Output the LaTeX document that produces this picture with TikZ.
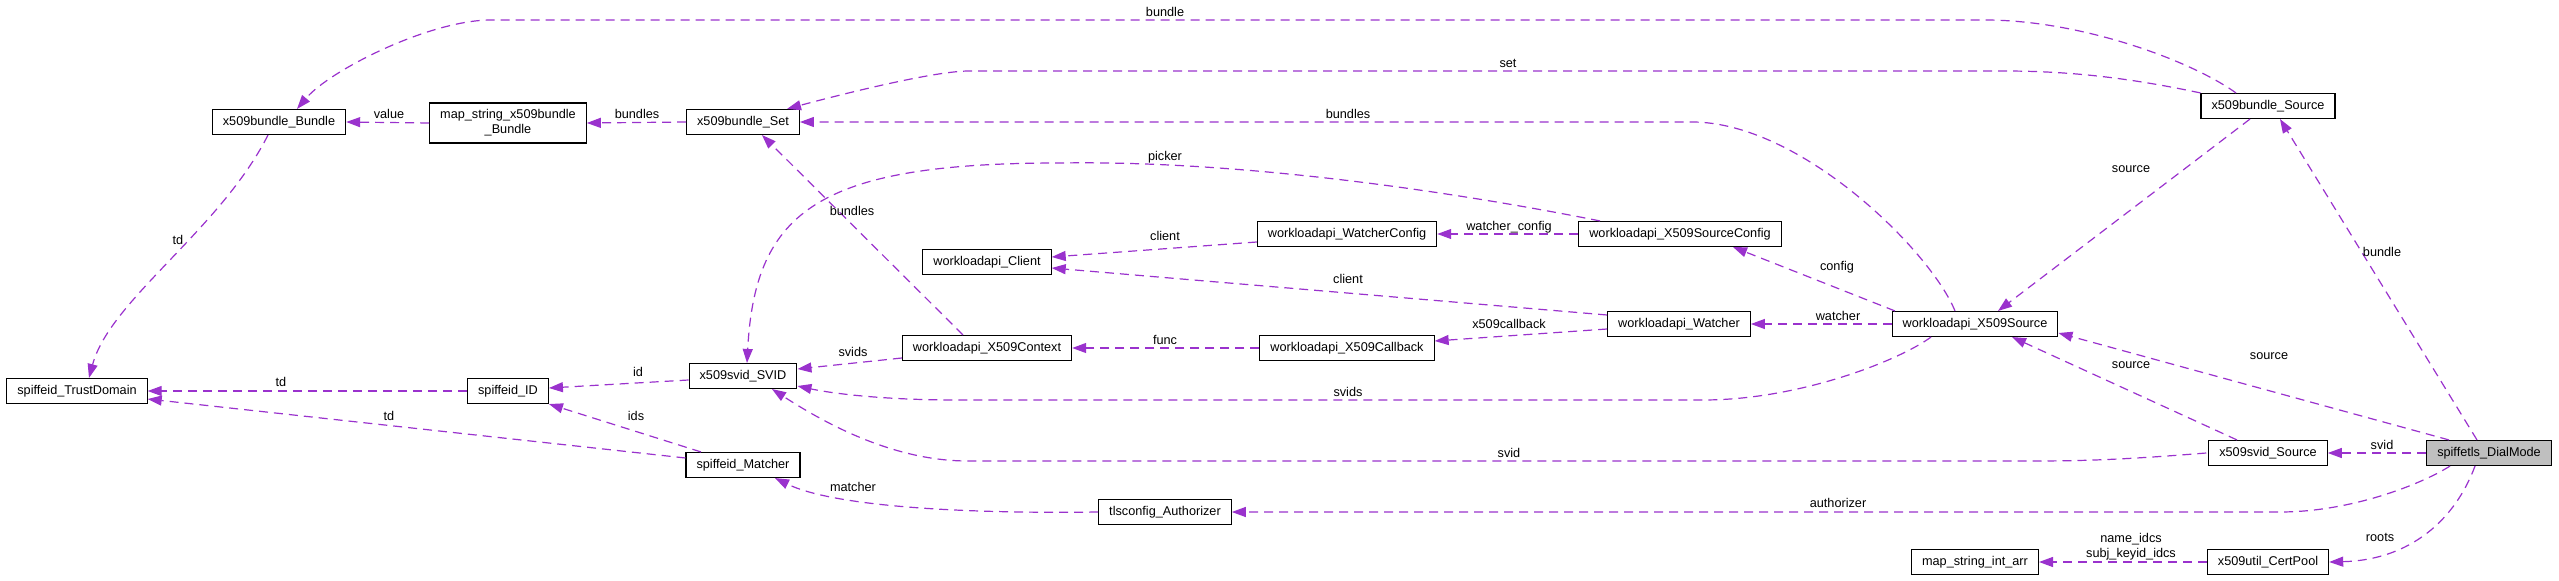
\documentclass[tikz,border=0pt]{standalone}
\usepackage{fontspec}
\setmainfont{Liberation Sans}
\usetikzlibrary{arrows.meta}
\definecolor{usecol}{HTML}{9A32CD}
\definecolor{selcol}{HTML}{BFBFBF}
\tikzset{
    cls/.style={draw=black, line width=1.1bp, fill=white, minimum height=25bp,
        inner xsep=10.5bp, inner ysep=1bp, font=\fontsize{12.7bp}{15bp}\selectfont},
    use/.style={draw=usecol, line width=1.2bp, dash pattern=on 9bp off 6bp,
        -{Triangle[length=14bp,width=10bp]}},
    lbl/.style={inner sep=0pt, font=\fontsize{12.7bp}{15bp}\selectfont},
}
\begin{document}
\begin{tikzpicture}[x=1bp, y=-1bp]
            \useasboundingbox (0,0) rectangle (2559,581);

            % spiffeid
            \node[cls] (trustDom) at (77,391) {spiffeid\_TrustDomain};
            \node[cls] (spID) at (508,391) {spiffeid\_ID};
            \node[cls] (spMatcher) at (743,465) {spiffeid\_Matcher};

            % x509bundle
            \node[cls] (bunBundle) at (279,122) {x509bundle\_Bundle};
            \node[cls, minimum height=40bp, align=center] (mapBundle) at (508,123) {map\_string\_x509bundle\\\_Bundle};
            \node[cls] (bunSet) at (743,122) {x509bundle\_Set};
            \node[cls] (bunSource) at (2268,106) {x509bundle\_Source};

            % x509svid
            \node[cls] (svidSVID) at (743,376) {x509svid\_SVID};
            \node[cls] (svidSource) at (2268,453) {x509svid\_Source};

            % workloadapi
            \node[cls] (wlClient) at (987,262) {workloadapi\_Client};
            \node[cls] (wlContext) at (987,348) {workloadapi\_X509Context};
            \node[cls] (wlWCfg) at (1347,234) {workloadapi\_WatcherConfig};
            \node[cls] (wlCallback) at (1347,348) {workloadapi\_X509Callback};
            \node[cls] (wlSCfg) at (1680,234) {workloadapi\_X509SourceConfig};
            \node[cls] (wlWatcher) at (1679,324) {workloadapi\_Watcher};
            \node[cls] (wlSource) at (1975,324) {workloadapi\_X509Source};

            % others
            \node[cls] (tlsAuth) at (1165,512) {tlsconfig\_Authorizer};
            \node[cls] (mapInt) at (1975,562) {map\_string\_int\_arr};
            \node[cls] (certPool) at (2268,562) {x509util\_CertPool};
            \node[cls, fill=selcol] (dialMode) at (2489,453) {spiffetls\_DialMode};

            % top arcs
            \draw[use] ([xshift=-32bp]bunSource.north) .. controls (2190,60) and (2080,20) .. (1985,20)
                -- (491,20) .. controls (430,20) and (330,70) .. ([xshift=18bp]bunBundle.north);
            \node[lbl] (lBundleTop) at (1165,12) {bundle};
            \draw[use] (bunSource.north west) .. controls (2130,78) and (2070,71) .. (2004,71)
                -- (969,71) .. controls (930,71) and (820,100) .. ([xshift=44bp]bunSet.north);
            \node[lbl] (lSet) at (1508,63) {set};
            \draw[use] ([xshift=-20bp]wlSource.north) .. controls (1930,250) and (1800,122) .. (1692,122)
                -- (bunSet.east);
            \node[lbl] (lBundlesSet) at (1348,114) {bundles};
            \draw[use] ([xshift=-80bp]wlSCfg.north) .. controls (1470,195) and (1250,160) .. (1060,163)
                .. controls (820,163) and (755,210) .. ([xshift=4bp]svidSVID.north);
            \node[lbl] (lPicker) at (1165,157) {picker};

            % x509bundle row
            \draw[use] (bunSet.west) -- (mapBundle.east);
            \node[lbl] (lBundlesMap) at (637,114) {bundles};
            \draw[use] (mapBundle.west) -- (bunBundle.east);
            \node[lbl] (lValue) at (389,114) {value};
            \draw[use] ([xshift=-11bp]bunBundle.south) .. controls (220,230) and (110,300) .. ([xshift=12bp]trustDom.north);
            \node[lbl] (lTdBundle) at (178,240) {td};

            % workloadapi
            \draw[use] ([xshift=-24bp]wlContext.north) -- ([xshift=19bp]bunSet.south);
            \node[lbl] (lBundlesCtx) at (852,211) {bundles};
            \draw[use] ([yshift=-8bp]wlWCfg.west) -- ([yshift=5bp]wlClient.east);
            \node[lbl] (lClientCfg) at (1165,236) {client};
            \draw[use] (wlSCfg.west) -- (wlWCfg.east);
            \node[lbl] (lWatcherCfg) at (1509,227) {watcher\_config};
            \draw[use] ([yshift=9bp]wlWatcher.west) -- ([yshift=-6bp]wlClient.east);
            \node[lbl] (lClientW) at (1348,279) {client};
            \draw[use] ([xshift=-80bp]wlSource.north) -- ([xshift=53bp]wlSCfg.south);
            \node[lbl] (lConfig) at (1837,267) {config};
            \draw[use] (wlSource.west) -- (wlWatcher.east);
            \node[lbl] (lWatcher) at (1838,316) {watcher};
            \draw[use] ([yshift=-5bp]wlWatcher.west) -- ([yshift=7bp]wlCallback.east);
            \node[lbl] (lCallback) at (1509,324) {x509callback};
            \draw[use] (wlCallback.west) -- (wlContext.east);
            \node[lbl] (lFunc) at (1165,340) {func};
            \draw[use] ([yshift=-10bp]wlContext.west) -- ([yshift=7bp]svidSVID.east);
            \node[lbl] (lSvidsCtx) at (853,352) {svids};
            \draw[use] ([xshift=-44bp]wlSource.south) .. controls (1900,360) and (1800,400) .. (1703,400)
                -- (957,400) .. controls (880,400) and (830,393) .. ([yshift=-10bp]svidSVID.east);
            \node[lbl] (lSvidsSrc) at (1348,392) {svids};

            % spiffeid
            \draw[use] (spID.west) -- (trustDom.east);
            \node[lbl] (lTdID) at (281,382) {td};
            \draw[use] ([yshift=-4bp]svidSVID.west) -- ([yshift=3bp]spID.east);
            \node[lbl] (lID) at (638,372) {id};
            \draw[use] ([xshift=-42bp]spMatcher.north) -- (spID.south east);
            \node[lbl] (lIDs) at (636,416) {ids};
            \draw[use] ([yshift=7bp]spMatcher.west) -- ([yshift=-8bp]trustDom.east);
            \node[lbl] (lTdMatcher) at (389,416) {td};
            \draw[use] (tlsAuth.west) .. controls (950,514) and (830,505) .. ([xshift=32bp]spMatcher.south);
            \node[lbl] (lMatcher) at (853,487) {matcher};

            % sources
            \draw[use] ([xshift=-18bp]bunSource.south) -- ([xshift=23bp]wlSource.north);
            \node[lbl] (lSourceBun) at (2131,169) {source};
            \draw[use] ([xshift=-31bp]svidSource.north) -- ([xshift=37bp]wlSource.south);
            \node[lbl] (lSourceSvid) at (2131,365) {source};
            \draw[use] ([xshift=-2bp]svidSource.west) .. controls (2120,460) and (2080,461) .. (2030,461)
                -- (968,461) .. controls (890,461) and (820,420) .. ([xshift=29bp]svidSVID.south);
            \node[lbl] (lSvid) at (1509,453) {svid};

            % DialMode
            \draw[use] ([xshift=-12bp]dialMode.north) -- ([xshift=12bp]bunSource.south);
            \node[lbl] (lBundleDial) at (2382,252) {bundle};
            \draw[use] ([xshift=-40bp]dialMode.north) -- ([yshift=-9bp]wlSource.east);
            \node[lbl] (lSourceDial) at (2269,356) {source};
            \draw[use] (dialMode.west) -- (svidSource.east);
            \node[lbl] (lSvidDial) at (2382,445) {svid};
            \draw[use] ([xshift=-39bp]dialMode.south) .. controls (2420,485) and (2350,512) .. (2280,512)
                -- (tlsAuth.east);
            \node[lbl] (lAuth) at (1838,503) {authorizer};
            \draw[use] ([xshift=-14bp]dialMode.south) .. controls (2455,520) and (2410,560) .. (certPool.east);
            \node[lbl] (lRoots) at (2380,537) {roots};
            \draw[use] (certPool.west) -- (mapInt.east);
            \node[lbl, align=center] (lIdcs) at (2131,547) {name\_idcs\\subj\_keyid\_idcs};

\end{tikzpicture}
\end{document}
